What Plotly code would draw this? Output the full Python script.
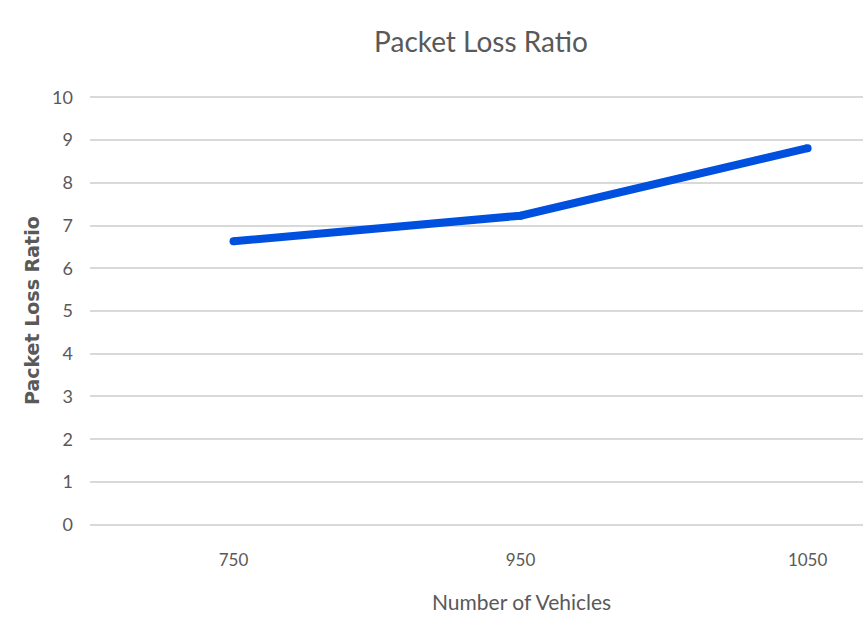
import plotly.graph_objects as go

vehicles = ["750", "950", "1050"]
loss_ratio = [6.63, 7.23, 8.81]
y_ticks = list(range(0, 11))

x_pos = list(range(len(vehicles)))

fig = go.Figure()
fig.add_trace(go.Scatter(
    x=x_pos, y=loss_ratio, mode="lines+markers",
    line=dict(color="#0050E0", width=8),
    marker=dict(color="#0050E0", size=8, line=dict(width=0)),
    showlegend=False, hoverinfo="skip", cliponaxis=False,
))

font_h = "Lato, Open Sans, sans-serif"
gray = "#595959"

fig.update_layout(
    width=863, height=618,
    margin=dict(l=90, r=0, t=96, b=92),
    paper_bgcolor="white", plot_bgcolor="white",
    title=dict(text="Packet Loss Ratio", x=481 / 863, xanchor="center",
               y=1 - 42 / 618, yanchor="middle", yref="container",
               font=dict(family=font_h, size=28, color=gray)),
    xaxis=dict(
        tickmode="array", tickvals=x_pos, ticktext=vehicles,
        range=[-0.5, 2.193], showgrid=False, zeroline=False, showline=False,
        ticks="", ticklen=0, ticklabelstandoff=22,
        tickfont=dict(family=font_h, size=17, color=gray),
    ),
    yaxis=dict(
        range=[-0.03, 10.03], tickmode="array", tickvals=y_ticks,
        showgrid=True, gridcolor="#D9D9D9", gridwidth=2,
        zeroline=False, showline=False, ticks="", ticklen=0,
        ticklabelstandoff=16,
        tickfont=dict(family=font_h, size=18, color=gray),
    ),
    annotations=[
        dict(
            text="Number of Vehicles", xref="paper", yref="paper",
            x=(521 - 90) / (863 - 90), y=-(600 - 525) / (618 - 96 - 92),
            xanchor="center", yanchor="middle", showarrow=False,
            font=dict(family=font_h, size=21, color=gray),
        ),
        dict(
            text="<b>Packet Loss Ratio</b>", xref="paper", yref="paper",
            x=-(90 - 32) / (863 - 90), y=(525 - 310) / (618 - 96 - 92),
            xanchor="center", yanchor="middle", showarrow=False, textangle=-90,
            font=dict(family="DejaVu Sans, sans-serif", size=19, color=gray),
        ),
    ],
)

fig.write_html("out.html")
